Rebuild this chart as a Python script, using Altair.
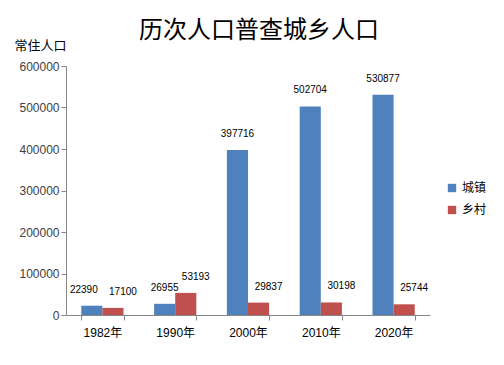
import altair as alt
import pandas as pd

years = ["1982年", "1990年", "2000年", "2010年", "2020年"]
series = ["城镇", "乡村"]
urban = [22390, 26955, 397716, 502704, 530877]
rural = [17100, 53193, 29837, 30198, 25744]
colors = ["#4F81BD", "#C0504D"]

rows = []
for i, y in enumerate(years):
    rows.append({"year": y, "series": series[0], "value": urban[i]})
    rows.append({"year": y, "series": series[1], "value": rural[i]})
df = pd.DataFrame(rows)

FONT = "Liberation Sans, Noto Sans CJK SC, sans-serif"

x = alt.X("year:N", sort=years, title=None,
          scale=alt.Scale(paddingInner=0.42, paddingOuter=0.21),
          axis=alt.Axis(labelAngle=0, tickBand="extent", domainColor="#868686",
                        tickColor="#868686", tickSize=5, labelFontSize=12,
                        labelColor="#000000", labelPadding=7, labelFont=FONT))
y = alt.Y("value:Q", title="常住人口",
          scale=alt.Scale(domain=[0, 600000], nice=False),
          axis=alt.Axis(values=[0, 100000, 200000, 300000, 400000, 500000, 600000],
                        format="d", grid=False, domainColor="#868686",
                        tickColor="#868686", tickSize=5, labelFontSize=12,
                        labelColor="#404040", labelPadding=2, labelFont=FONT,
                        titleAngle=0, titleX=-52, titleY=-21, titleAlign="left",
                        titleBaseline="middle", titleFontSize=13,
                        titleFontWeight="normal", titleFont=FONT, titleColor="#000000"))
xo = alt.XOffset("series:N", sort=series)
color = alt.Color("series:N", sort=series, title=None,
                  scale=alt.Scale(domain=series, range=colors),
                  legend=alt.Legend(orient="none", legendX=380, legendY=116,
                                    symbolType="square", symbolSize=70,
                                    symbolStrokeWidth=0, labelFontSize=12,
                                    labelFont=FONT, rowPadding=10,
                                    labelColor="#000000"))

base = alt.Chart(df)
bars = base.mark_bar().encode(x=x, y=y, xOffset=xo, color=color)
txt = dict(baseline="middle", fontSize=10, font=FONT, color="#000000")
enc = dict(x=x, y=y, xOffset=xo, text=alt.Text("value:Q", format="d"))
lab_u = base.transform_filter(
    (alt.datum.series == "城镇") & (alt.datum.year != "1982年")
).mark_text(dy=-16, **txt).encode(**enc)
lab_u0 = base.transform_filter(
    (alt.datum.series == "城镇") & (alt.datum.year == "1982年")
).mark_text(dy=-16, dx=-8, **txt).encode(**enc)
lab_r = base.transform_filter(alt.datum.series == "乡村").mark_text(
    dy=-16, dx=10, **txt).encode(**enc)

chart = alt.layer(bars, lab_u, lab_u0, lab_r).properties(
    width=364, height=249,
    title=alt.TitleParams(text="历次人口普查城乡人口", fontSize=24, fontWeight="normal",
                          font="Noto Sans CJK SC", color="#000000", anchor="middle",
                          dx=11, offset=-4),
    padding={"left": 58, "top": 58, "right": 66, "bottom": 42},
    autosize=alt.AutoSizeParams(type="none"),
).configure_view(stroke=None)

chart.save("out.html", embed_options={"renderer": "svg", "actions": False})
